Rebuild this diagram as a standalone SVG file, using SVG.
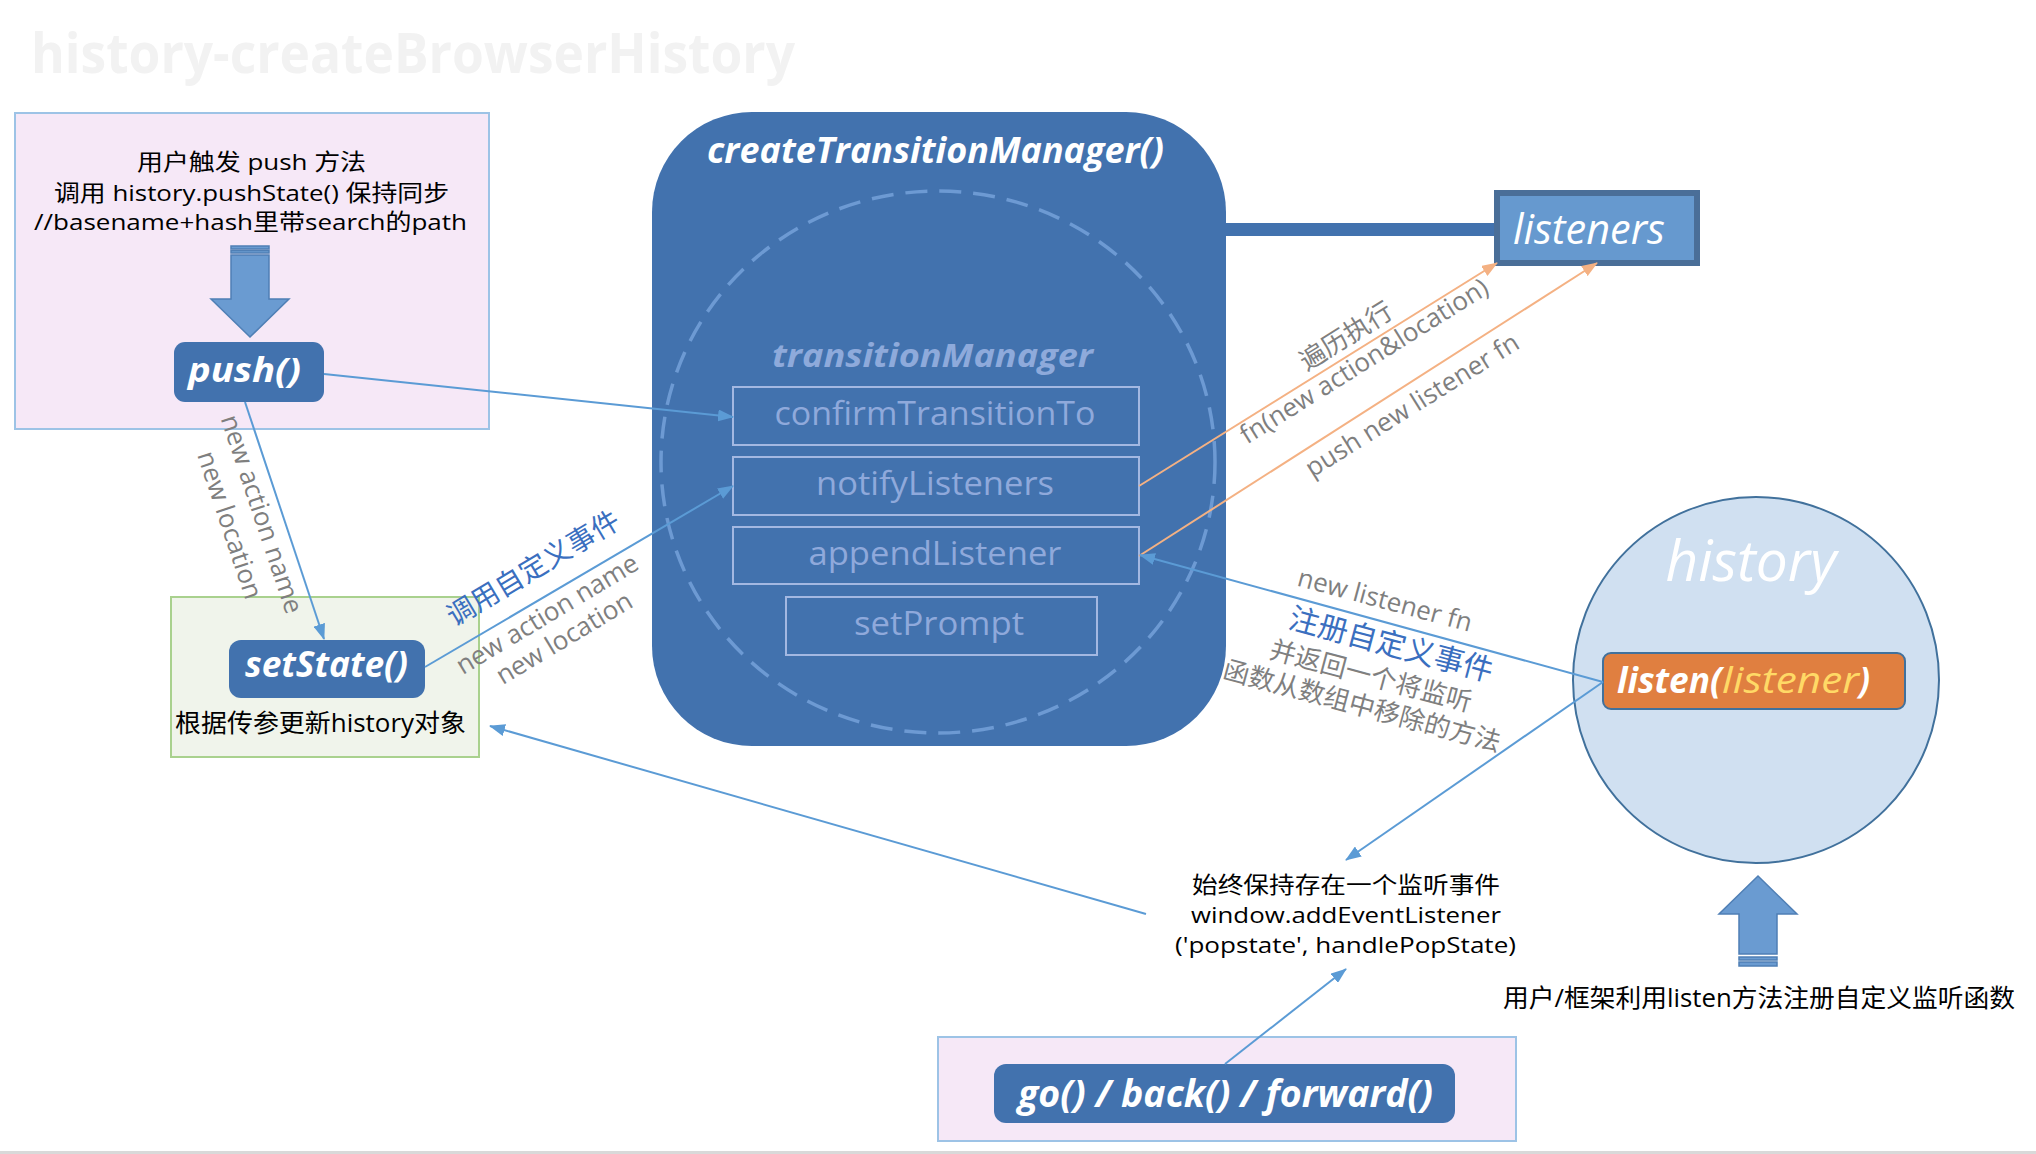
<svg xmlns="http://www.w3.org/2000/svg" width="2036" height="1154" viewBox="0 0 2036 1154">
<defs>
<style>
.t{font-family:"Open Sans","Noto Sans CJK SC",sans-serif}
.bt{font-family:"Open Sans","Noto Sans",sans-serif;font-weight:700;font-style:italic;fill:#ffffff}
.btn{fill:#4272ae}
.pink{fill:#f6e8f7;stroke:#9dc3e6;stroke-width:2}
.conn{stroke:#5b9bd5;stroke-width:2;fill:none}
.org{stroke:#f4b183;stroke-width:2;fill:none}
.lbl{fill:#7f7f7f;font-size:26px;text-anchor:middle}
.blu{fill:#3a6fbf;text-anchor:middle}
.ibox{fill:none;stroke:#a3b8e2;stroke-width:2}
.ibt{fill:#8fa9db;font-size:32px;text-anchor:middle}
.blk{fill:#000000;font-size:25px;text-anchor:middle}
.stk{font-size:22.5px}
.barrow{fill:#6a9bd1;stroke:#4f7fb5;stroke-width:1.5}
</style>
<marker id="ab" markerUnits="userSpaceOnUse" markerWidth="16" markerHeight="12" refX="15" refY="6" orient="auto"><path d="M0,0 L16,6 L0,12 z" fill="#5b9bd5"/></marker>
<marker id="ao" markerUnits="userSpaceOnUse" markerWidth="16" markerHeight="12" refX="15" refY="6" orient="auto"><path d="M0,0 L16,6 L0,12 z" fill="#f4b183"/></marker>
</defs>
<rect x="0" y="0" width="2036" height="1154" fill="#ffffff"/>
<rect x="0" y="1151" width="2036" height="3" fill="#d9d9d9"/>

<g id="title"><text class="t" x="31" y="73" font-size="56" font-weight="700" fill="#f2f2f2" textLength="764" lengthAdjust="spacingAndGlyphs">history-createBrowserHistory</text></g>

<g id="push-box">
<rect class="pink" x="15" y="113" width="474" height="316"/>
<text class="t blk stk" x="251.5" y="170" textLength="229" lengthAdjust="spacingAndGlyphs">用户触发 push 方法</text>
<text class="t blk stk" x="251.5" y="201" textLength="395" lengthAdjust="spacingAndGlyphs">调用 history.pushState() 保持同步</text>
<text class="t blk stk" x="250.5" y="230" textLength="433" lengthAdjust="spacingAndGlyphs">//basename+hash里带search的path</text>
<g id="down-arrow">
<rect class="barrow" x="231" y="246" width="38" height="3"/>
<rect class="barrow" x="231" y="250.5" width="38" height="2.5"/>
<path class="barrow" d="M231,255 H269 V299 H289 L250,337 L211,299 H231 Z"/>
</g>
</g>

<g id="push">
<rect class="btn" x="174" y="342" width="150" height="60" rx="11"/>
<text class="bt" x="244.5" y="382" font-size="34" text-anchor="middle" textLength="113" lengthAdjust="spacingAndGlyphs">push()</text>
</g>

<g id="setstate-box">
<rect x="171" y="597" width="308" height="160" fill="#f0f4eb" stroke="#a9d18e" stroke-width="2"/>
<text class="t blk" x="320.5" y="732" textLength="291" lengthAdjust="spacingAndGlyphs">根据传参更新history对象</text>
</g>

<g id="setstate">
<rect class="btn" x="229" y="640" width="196" height="58" rx="12"/>
<text class="bt" x="326.5" y="677" font-size="36" text-anchor="middle" textLength="163" lengthAdjust="spacingAndGlyphs">setState()</text>
</g>

<g id="ctm">
<rect class="btn" x="652" y="112" width="574" height="634" rx="100"/>
<text class="bt" x="935.5" y="163" font-size="36" text-anchor="middle" textLength="457" lengthAdjust="spacingAndGlyphs">createTransitionManager()</text>
<ellipse cx="938" cy="462" rx="277" ry="271" fill="none" stroke="#6d9ad3" stroke-width="3.5" stroke-dasharray="22 12"/>
<text class="t" x="932.5" y="367" font-size="32" font-weight="700" font-style="italic" fill="#8eaadb" text-anchor="middle" textLength="321" lengthAdjust="spacingAndGlyphs">transitionManager</text>
</g>

<g id="confirmTransitionTo">
<rect class="ibox" x="733" y="387" width="406" height="58"/>
<text class="t ibt" x="935" y="425" textLength="321" lengthAdjust="spacingAndGlyphs">confirmTransitionTo</text>
</g>
<g id="notifyListeners">
<rect class="ibox" x="733" y="457" width="406" height="58"/>
<text class="t ibt" x="935" y="495" textLength="238" lengthAdjust="spacingAndGlyphs">notifyListeners</text>
</g>
<g id="appendListener">
<rect class="ibox" x="733" y="527" width="406" height="57"/>
<text class="t ibt" x="935" y="565" textLength="253" lengthAdjust="spacingAndGlyphs">appendListener</text>
</g>
<g id="setPrompt">
<rect class="ibox" x="786" y="597" width="311" height="58"/>
<text class="t ibt" x="939" y="635" textLength="170" lengthAdjust="spacingAndGlyphs">setPrompt</text>
</g>

<g id="listeners">
<rect x="1497" y="193" width="200" height="70" fill="#6699cf" stroke="#4a6e98" stroke-width="6"/>
<text class="t" x="1513" y="244" font-size="42" font-style="italic" fill="#ffffff" textLength="152" lengthAdjust="spacingAndGlyphs">listeners</text>
</g>

<g id="history">
<circle cx="1756" cy="680" r="183" fill="#d0e0f1" stroke="#41719c" stroke-width="2"/>
<text class="t" x="1751" y="581" font-size="56" font-style="italic" fill="#ffffff" text-anchor="middle" textLength="171" lengthAdjust="spacingAndGlyphs">history</text>
</g>

<g id="listen">
<rect x="1603" y="653" width="302" height="56" rx="8" fill="#e07f40" stroke="#41719c" stroke-width="2"/>
<text class="bt" x="1617" y="693" font-size="36" textLength="105" lengthAdjust="spacingAndGlyphs">listen(</text>
<text class="t" x="1722" y="693" font-size="36" font-style="italic" fill="#ffd966" textLength="137" lengthAdjust="spacingAndGlyphs">listener</text>
<text class="bt" x="1859" y="693" font-size="36" textLength="11" lengthAdjust="spacingAndGlyphs">)</text>
</g>

<g id="popstate-text">
<text class="t blk stk" x="1346" y="893" textLength="308" lengthAdjust="spacingAndGlyphs">始终保持存在一个监听事件</text>
<text class="t blk stk" x="1346" y="923" textLength="310" lengthAdjust="spacingAndGlyphs">window.addEventListener</text>
<text class="t blk stk" x="1345.5" y="953" textLength="341" lengthAdjust="spacingAndGlyphs">('popstate', handlePopState)</text>
</g>

<g id="go-box">
<rect class="pink" x="938" y="1037" width="578" height="104"/>
</g>
<g id="go">
<rect class="btn" x="994" y="1064" width="461" height="59" rx="12"/>
<text class="bt" x="1225.5" y="1107" font-size="38" text-anchor="middle" textLength="415" lengthAdjust="spacingAndGlyphs">go() / back() / forward()</text>
</g>

<g id="listen-note">
<rect class="barrow" x="1739" y="962" width="38" height="4"/>
<rect class="barrow" x="1739" y="957" width="38" height="3"/>
<path class="barrow" d="M1739,954 V914 H1719 L1758,876 L1797,914 H1777 V954 Z"/>
<text class="t blk" x="1759" y="1007" textLength="512" lengthAdjust="spacingAndGlyphs">用户/框架利用listen方法注册自定义监听函数</text>
</g>

<g id="connectors">
<line x1="1226" y1="229.5" x2="1494" y2="229.5" stroke="#4272ae" stroke-width="13"/>
<line class="conn" x1="324" y1="374" x2="733" y2="417" marker-end="url(#ab)"/>
<line class="conn" x1="245" y1="402" x2="324" y2="639" marker-end="url(#ab)"/>
<line class="conn" x1="425" y1="667" x2="733" y2="486" marker-end="url(#ab)"/>
<line class="org" x1="1139" y1="486" x2="1497" y2="263" marker-end="url(#ao)"/>
<line class="org" x1="1139" y1="556" x2="1597" y2="263" marker-end="url(#ao)"/>
<line class="conn" x1="1603" y1="682" x2="1140" y2="555" marker-end="url(#ab)"/>
<line class="conn" x1="1603" y1="682" x2="1346" y2="860" marker-end="url(#ab)"/>
<line class="conn" x1="1146" y1="914" x2="490" y2="726" marker-end="url(#ab)"/>
<line class="conn" x1="1225" y1="1064" x2="1346" y2="969" marker-end="url(#ab)"/>

<g class="t">
<text class="lbl" transform="translate(262,514) rotate(71.5)" x="0" y="9">new action name</text>
<text class="lbl" transform="translate(230,525) rotate(71.5)" x="0" y="9">new location</text>
<text class="blu" font-size="28" transform="translate(533,568) rotate(-31)" x="0" y="10">调用自定义事件</text>
<text class="lbl" transform="translate(547,614) rotate(-31)" x="0" y="9">new action name</text>
<text class="lbl" transform="translate(564,638) rotate(-31)" x="0" y="9">new location</text>
<text class="lbl" font-size="24" transform="translate(1346,336) rotate(-32)" x="0" y="9">遍历执行</text>
<text class="lbl" transform="translate(1364,361) rotate(-32)" x="0" y="9">fn(new action&amp;location)</text>
<text class="lbl" transform="translate(1412,405) rotate(-32)" x="0" y="9">push new listener fn</text>
<text class="lbl" transform="translate(1385,600) rotate(15)" x="0" y="9">new listener fn</text>
<text class="blu" font-size="30" transform="translate(1391,645) rotate(15)" x="0" y="10">注册自定义事件</text>
<text class="lbl" font-size="25" transform="translate(1371,676) rotate(15)" x="0" y="9">并返回一个将监听</text>
<text class="lbl" font-size="25" transform="translate(1362,706) rotate(15)" x="0" y="9">函数从数组中移除的方法</text>
</g>
</g>
</svg>
